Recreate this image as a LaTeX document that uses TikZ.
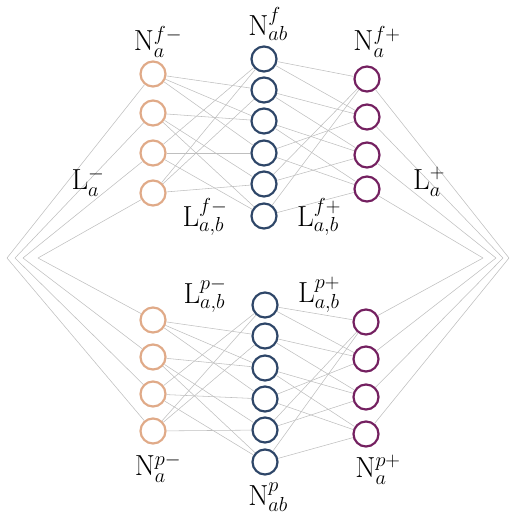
\RequirePackage{fix-cm}
\documentclass[tikz,border=0pt]{standalone}
\definecolor{nodeorange}{RGB}{224,170,136}
\definecolor{nodeblue}{RGB}{46,70,104}
\definecolor{nodepurple}{RGB}{116,32,96}
\tikzset{
  neuron/.style={circle, draw, line width=2.2pt, minimum size=25pt, inner sep=0pt},
  minusnode/.style={neuron, draw=nodeorange},
  pairnode/.style={neuron, draw=nodeblue},
  plusnode/.style={neuron, draw=nodepurple},
  link/.style={draw=gray!50, line width=0.55pt},
  lbl/.style={font=\fontsize{29}{33}\selectfont, inner sep=0pt}
}
\begin{document}
\begin{tikzpicture}[x=1pt,y=-1pt]
    \useasboundingbox (0,0) rectangle (511,515);

    % f block
    \foreach \y [count=\i] in {74,113,153,193}
        \node[minusnode] (fm\i) at (153,\y) {};
    \foreach \y [count=\i] in {59,90,121,153,184,216}
        \node[pairnode] (f\i) at (264,\y) {};
    \foreach \y [count=\i] in {79,117,155,189}
        \node[plusnode] (fp\i) at (367,\y) {};

    % p block
    \foreach \y [count=\i] in {320,357,394,431}
        \node[minusnode] (pm\i) at (153,\y) {};
    \foreach \y [count=\i] in {305,336,368,399,430,462}
        \node[pairnode] (p\i) at (265,\y) {};
    \foreach \y [count=\i] in {322,359,397,434}
        \node[plusnode] (pp\i) at (366,\y) {};

    % outer ends
    \foreach \x [count=\i] in {7,15,23,38}
        \coordinate (lm\i) at (\x,258);
    \foreach \x [count=\i] in {509,503,496,483}
        \coordinate (lp\i) at (\x,258);

    % links
    \foreach \a/\b in {1/2,1/3,1/4,2/3,2/5,2/6,3/1,3/4,3/6,4/1,4/2,4/5}{
        \draw[link] (fm\a) -- (f\b);
        \draw[link] (pm\a) -- (p\b);
    }
    \foreach \a/\b in {1/1,1/2,2/2,2/3,3/3,3/4,4/2,4/4,5/1,5/3,6/1,6/4}{
        \draw[link] (f\a) -- (fp\b);
        \draw[link] (p\a) -- (pp\b);
    }
    \foreach \i/\j in {1/4,2/3,3/2,4/1}{
        \draw[link] (lm\i) -- (fm\i);
        \draw[link] (lm\i) -- (pm\j);
        \draw[link] (lp\i) -- (fp\i);
        \draw[link] (lp\i) -- (pp\j);
    }

    % labels
    \node[lbl] (nfm) at (158,42) {$\mathrm{N}^{f-}_{a}$};
    \node[lbl] (nf) at (268,24) {$\mathrm{N}^{f}_{ab}$};
    \node[lbl] (nfp) at (377,42) {$\mathrm{N}^{f+}_{a}$};
    \node[lbl] (lam) at (88,182) {$\mathrm{L}^{-}_{a}$};
    \node[lbl] (lap) at (429,182) {$\mathrm{L}^{+}_{a}$};
    \node[lbl] (lfm) at (205,217) {$\mathrm{L}^{f-}_{a,b}$};
    \node[lbl] (lfp) at (319,217) {$\mathrm{L}^{f+}_{a,b}$};
    \node[lbl] (lpm) at (205,295) {$\mathrm{L}^{p-}_{a,b}$};
    \node[lbl] (lpp) at (319,295) {$\mathrm{L}^{p+}_{a,b}$};
    \node[lbl] (npm) at (158,468) {$\mathrm{N}^{p-}_{a}$};
    \node[lbl] (np) at (268,497) {$\mathrm{N}^{p}_{ab}$};
    \node[lbl] (npp) at (378,470) {$\mathrm{N}^{p+}_{a}$};
\end{tikzpicture}
\end{document}
